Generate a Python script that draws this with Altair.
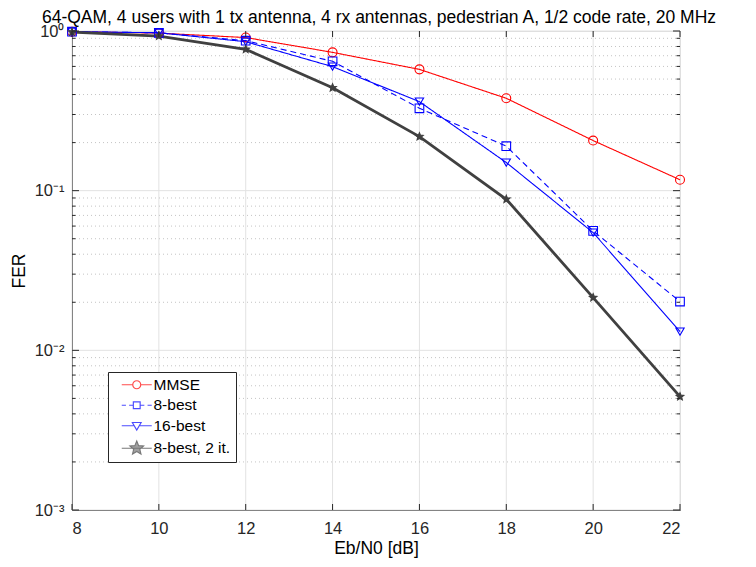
import math
import altair as alt
import pandas as pd

# ---- data ----
ebn0 = [8, 10, 12, 14, 16, 18, 20, 22]
fer_mmse = [0.99, 0.97, 0.91, 0.735, 0.575, 0.379, 0.206, 0.117]
fer_8best = [0.99, 0.975, 0.87, 0.646, 0.328, 0.19, 0.056, 0.0202]
fer_16best = [0.99, 0.975, 0.857, 0.598, 0.361, 0.150, 0.0546, 0.0131]
fer_8best_2it = [0.985, 0.93, 0.768, 0.441, 0.218, 0.0883, 0.0214, 0.00513]
series_names = ["MMSE", "8-best", "16-best", "8-best, 2 it."]
title_text = "64-QAM, 4 users with 1 tx antenna, 4 rx antennas, pedestrian A, 1/2 code rate, 20 MHz"

x_ticks = [8, 10, 12, 14, 16, 18, 20, 22]
y_major = [0.001, 0.01, 0.1, 1.0]
minor_mult = [2, 3, 4, 5, 6, 7, 8, 9]
y_minor = [m * d for d in [0.001, 0.01, 0.1] for m in minor_mult]

W, H = 608, 479
FONT = "Liberation Sans"
INK = "#262626"
DARK = "#404040"

rows = []
for name, vals in zip(series_names, [fer_mmse, fer_8best, fer_16best, fer_8best_2it]):
    for xv, yv in zip(ebn0, vals):
        rows.append({"x": xv, "fer": yv, "series": name})
df = pd.DataFrame(rows)


def star_path(ro, ri):
    pts = []
    for i in range(10):
        a = math.radians(-90 + 36 * i)
        r = ro if i % 2 == 0 else ri
        pts.append(f"{r*math.cos(a):.3f},{r*math.sin(a):.3f}")
    return "M" + " L".join(pts) + " Z"


star = star_path(1.0, 0.45)
star_big = star_path(1.8, 0.8)

colors = ["#ff0000", "#0000ff", "#0000ff", DARK]
dom = series_names
thin = series_names[:3]

xs = alt.Scale(domain=[8, 22], nice=False, zero=False)
ys = alt.Scale(type="log", domain=[0.001, 1], nice=False)

# grid
grid_x = alt.Chart(pd.DataFrame({"x": x_ticks})).mark_rule(color="#e2e2e2", strokeWidth=1).encode(
    x=alt.X("x:Q", scale=xs))
grid_y = alt.Chart(pd.DataFrame({"y": y_major})).mark_rule(color="#e2e2e2", strokeWidth=1).encode(
    y=alt.Y("y:Q", scale=ys))
grid_minor = alt.Chart(pd.DataFrame({"y": y_minor})).mark_rule(
    color="#c4c4c4", strokeWidth=1, strokeDash=[1, 3]).encode(y=alt.Y("y:Q", scale=ys))

color_enc = alt.Color("series:N", scale=alt.Scale(domain=dom, range=colors), legend=None)

x_axis = alt.Axis(values=x_ticks, grid=False, ticks=False, title="Eb/N0 [dB]",
                  labelFontSize=16.5, titleFontSize=17.5, labelPadding=10, titlePadding=3,
                  labelFont=FONT, titleFont=FONT, labelColor=INK, titleColor="#000",
                  titleFontWeight="normal", domainColor=INK)
y_axis = alt.Axis(values=y_major, grid=False, ticks=False, title="FER",
                  labelExpr="'10' + (datum.value >= 0.5 ? '⁰' : datum.value >= 0.05 ? '⁻¹' : datum.value >= 0.005 ? '⁻²' : '⁻³')",
                  labelFontSize=16.5, titleFontSize=17.5, labelPadding=8, titlePadding=6,
                  labelFont=FONT, titleFont=FONT, labelColor=INK, titleColor="#000",
                  titleFontWeight="normal", domainColor=INK)

lines_thin = alt.Chart(df).transform_filter(
    alt.FieldOneOfPredicate(field="series", oneOf=thin)
).mark_line(strokeWidth=1.1).encode(
    x=alt.X("x:Q", scale=xs, axis=x_axis),
    y=alt.Y("fer:Q", scale=ys, axis=y_axis),
    color=color_enc,
    strokeDash=alt.StrokeDash("series:N", scale=alt.Scale(domain=dom, range=[[1, 0], [6, 4], [1, 0], [1, 0]]), legend=None),
    order="x:Q",
)
lines_thick = alt.Chart(df).transform_filter(
    alt.FieldEqualPredicate(field="series", equal=series_names[3])
).mark_line(strokeWidth=2.8, color=DARK).encode(
    x=alt.X("x:Q", scale=xs),
    y=alt.Y("fer:Q", scale=ys),
    order="x:Q",
)

points = alt.Chart(df).mark_point(filled=False, opacity=1, strokeWidth=1.1).encode(
    x=alt.X("x:Q", scale=xs),
    y=alt.Y("fer:Q", scale=ys),
    color=color_enc,
    shape=alt.Shape("series:N", scale=alt.Scale(domain=dom, range=["circle", "square", "triangle-down", star]), legend=None),
    fill=alt.Fill("series:N", scale=alt.Scale(domain=dom, range=["transparent", "transparent", "transparent", DARK]), legend=None),
    size=alt.Size("series:N", scale=alt.Scale(domain=dom, range=[80, 64, 80, 330]), legend=None),
)

# legend layer (no visible marks, only the legend)
leg_paths = [
    "M-3.75,0H-1 M1,0H3.75 M1,0A1,1 0 1 1 -1,0A1,1 0 1 1 1,0",
    "M-3.75,0H-2.7 M-1.9,0H-0.85 M0.85,0H1.9 M2.7,0H3.75 M-0.85,-0.85H0.85V0.85H-0.85Z",
    "M-3.75,0H-0.8 M0.8,0H3.75 M-1.1,-0.8L1.1,-0.8L0,1.1Z",
    "M-3.75,0H3.75 " + star_big,
]
leg = alt.Legend(title=None, orient="none", legendX=36, legendY=341, fillColor="white",
                 strokeColor=INK, padding=5, symbolSize=64, symbolOffset=16, labelOffset=9,
                 labelFontSize=15.5, labelFont=FONT, labelColor="#000", rowPadding=3.5,
                 labelExpr="datum.label + '\u00a0'")
legend_layer = alt.Chart(df).transform_filter("false").mark_point(filled=False).encode(
    x=alt.X("x:Q", scale=xs),
    y=alt.Y("fer:Q", scale=ys),
    color=alt.Color("series:N", scale=alt.Scale(domain=dom, range=colors), legend=leg),
    shape=alt.Shape("series:N", scale=alt.Scale(domain=dom, range=leg_paths), legend=leg),
    fill=alt.Fill("series:N", scale=alt.Scale(domain=dom, range=["transparent", "transparent", "transparent", DARK]), legend=leg),
    strokeWidth=alt.StrokeWidth("series:N", scale=alt.Scale(domain=dom, range=[1.2, 1.1, 1.1, 2.6]), legend=leg),
)

# inward tick marks
tx = pd.DataFrame({"x": x_ticks})
ticks_bottom = alt.Chart(tx).mark_rule(color=INK).encode(x=alt.X("x:Q", scale=xs), y=alt.value(H), y2=alt.value(H - 6))
ticks_top = alt.Chart(tx).mark_rule(color=INK).encode(x=alt.X("x:Q", scale=xs), y=alt.value(0), y2=alt.value(6))
tym = pd.DataFrame({"y": y_major})
tyn = pd.DataFrame({"y": y_minor})
ticks_left = alt.Chart(tym).mark_rule(color=INK).encode(y=alt.Y("y:Q", scale=ys), x=alt.value(0), x2=alt.value(7))
ticks_right = alt.Chart(tym).mark_rule(color=INK).encode(y=alt.Y("y:Q", scale=ys), x=alt.value(W), x2=alt.value(W - 7))
mticks_left = alt.Chart(tyn).mark_rule(color=INK).encode(y=alt.Y("y:Q", scale=ys), x=alt.value(0), x2=alt.value(3.5))
mticks_right = alt.Chart(tyn).mark_rule(color=INK).encode(y=alt.Y("y:Q", scale=ys), x=alt.value(W), x2=alt.value(W - 3.5))

title = alt.Chart(pd.DataFrame({"t": [title_text]})).mark_text(
    font=FONT, fontSize=17.5, color="#000", align="center", baseline="alphabetic"
).encode(text="t:N", x=alt.value(W / 2 + 3), y=alt.value(-8.5))

chart = alt.layer(
    grid_x, grid_y, grid_minor, lines_thin, lines_thick, points,
    ticks_bottom, ticks_top, ticks_left, ticks_right, mticks_left, mticks_right,
    legend_layer, title,
).resolve_scale(shape="independent").resolve_legend(
    color="independent", shape="independent", fill="independent", strokeWidth="independent"
).properties(
    width=W, height=H,
    autosize=alt.AutoSizeParams(type="none"),
    padding={"left": 64, "top": 23, "right": 68, "bottom": 49},
).configure_view(stroke=INK, strokeWidth=1).configure(background="white")

chart.save("out.html", embed_options={"renderer": "svg", "actions": False})
